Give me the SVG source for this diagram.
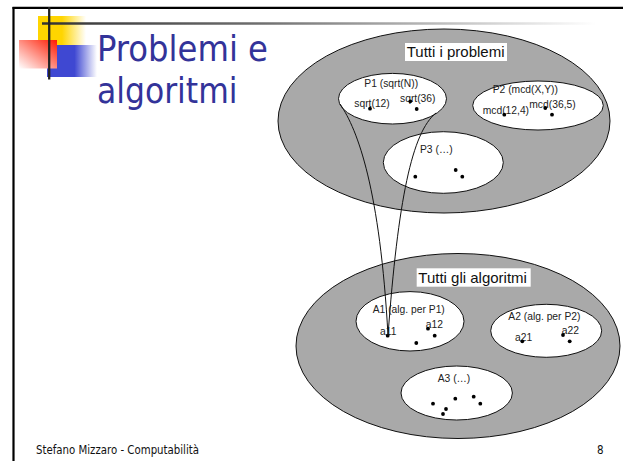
<svg xmlns="http://www.w3.org/2000/svg" width="623" height="461" viewBox="0 0 623 461">
<defs>
<linearGradient id="gYel" x1="0" y1="0" x2="1" y2="0"><stop offset="0" stop-color="#FFD500"/><stop offset="0.5" stop-color="#FFD500"/><stop offset="1" stop-color="#FFFFFF"/></linearGradient>
<linearGradient id="gRed" x1="1" y1="0" x2="0" y2="1"><stop offset="0" stop-color="#FF1A00"/><stop offset="1" stop-color="#FFFFFF"/></linearGradient>
<linearGradient id="gBlue" x1="0" y1="0" x2="1" y2="0"><stop offset="0" stop-color="#3F48D2"/><stop offset="0.55" stop-color="#3F48D2"/><stop offset="1" stop-color="#FFFFFF"/></linearGradient>
<linearGradient id="gLine" gradientUnits="userSpaceOnUse" x1="42" y1="0" x2="596" y2="0"><stop offset="0" stop-color="#333333"/><stop offset="0.4" stop-color="#707070"/><stop offset="0.8" stop-color="#d0d0d0"/><stop offset="1" stop-color="#ffffff"/></linearGradient>
</defs>
<style>
.big{fill:#a9a9a9;stroke:#111;stroke-width:1}
.sub{fill:#fff;stroke:#111;stroke-width:1}
.lbl{font-family:"Liberation Sans",Arial,sans-serif;font-size:10.3px;fill:#222}
.ttl{font-family:"Liberation Sans",Arial,sans-serif;font-size:15px;fill:#111}
.dot{fill:#000}
.con{fill:none;stroke:#111;stroke-width:1}
.foot{font-family:"DejaVu Sans Condensed","DejaVu Sans",sans-serif;font-stretch:condensed;font-size:11.5px;fill:#111}
</style>
<rect width="623" height="461" fill="#fff"/>
<!-- slide frame and decoration -->
<line x1="12.5" y1="7.8" x2="623" y2="7.8" stroke="#000" stroke-width="2.2"/>
<line x1="13.5" y1="7" x2="13.5" y2="461" stroke="#000" stroke-width="2.2"/>
<rect x="38" y="16" width="48" height="48" fill="url(#gYel)"/>
<rect x="47" y="45" width="50" height="32" fill="url(#gBlue)"/>
<rect x="19" y="40" width="38" height="28.5" fill="url(#gRed)"/>
<line x1="42" y1="23.5" x2="596" y2="23.5" stroke="url(#gLine)" stroke-width="2.3"/>
<line x1="49.2" y1="7" x2="49.2" y2="79.5" stroke="#222" stroke-width="2.3"/>
<text x="97" y="61" font-family="'DejaVu Sans Condensed','DejaVu Sans',sans-serif" font-stretch="condensed" font-size="36" fill="#333399" textLength="171" lengthAdjust="spacingAndGlyphs">Problemi e</text>
<text x="97" y="103.3" font-family="'DejaVu Sans Condensed','DejaVu Sans',sans-serif" font-stretch="condensed" font-size="36" fill="#333399" textLength="140.5" lengthAdjust="spacingAndGlyphs">algoritmi</text>
<text class="foot" x="36" y="454" textLength="163" lengthAdjust="spacingAndGlyphs">Stefano Mizzaro - Computabilità</text>
<text class="foot" x="597" y="454">8</text>

<g id="problemi">
<ellipse class="big" cx="444" cy="121" rx="166" ry="92"/>
<rect x="405" y="43" width="102" height="18" fill="#fff"/>
<text class="ttl" x="406.7" y="57.3">Tutti i problemi</text>
</g>
<g id="algoritmi">
<ellipse class="big" cx="458" cy="346" rx="162" ry="92.5"/>
<rect x="416.7" y="268.3" width="114" height="18.4" fill="#fff"/>
<text class="ttl" x="418.3" y="282.7">Tutti gli algoritmi</text>
</g>
<g id="P1">
<ellipse class="sub" cx="392.5" cy="98.7" rx="54" ry="25.3"/>
<text class="lbl" x="364.3" y="86.7">P1 (sqrt(N))</text>
<text class="lbl" x="354.3" y="107.3">sqrt(12)</text>
<text class="lbl" x="400" y="101.7">sqrt(36)</text>
<circle class="dot" cx="370" cy="108.7" r="1.9"/>
<circle class="dot" cx="410.3" cy="101.3" r="1.9"/>
<circle class="dot" cx="416.7" cy="109" r="1.9"/>
</g>
<g id="P2">
<ellipse class="sub" cx="538" cy="105.5" rx="65.3" ry="24.5"/>
<text class="lbl" x="492.7" y="92.7">P2 (mcd(X,Y))</text>
<text class="lbl" x="482.7" y="114.3">mcd(12,4)</text>
<text class="lbl" x="529.3" y="108.3">mcd(36,5)</text>
<circle class="dot" cx="504.3" cy="114.7" r="1.9"/>
<circle class="dot" cx="545.3" cy="108" r="1.9"/>
<circle class="dot" cx="552" cy="114.7" r="1.9"/>
</g>
<g id="P3">
<ellipse class="sub" cx="443.3" cy="162.5" rx="60" ry="30.8"/>
<text class="lbl" x="420" y="153.3">P3 (…)</text>
<circle class="dot" cx="415.3" cy="176.7" r="1.9"/>
<circle class="dot" cx="455.7" cy="170" r="1.9"/>
<circle class="dot" cx="462.3" cy="176.7" r="1.9"/>
</g>
<g id="A1">
<ellipse class="sub" cx="410" cy="321.3" rx="54" ry="29.7"/>
<text class="lbl" x="372.7" y="313.3">A1 (alg. per P1)</text>
<text class="lbl" x="380" y="335">a11</text>
<text class="lbl" x="425.7" y="328.3">a12</text>
<circle class="dot" cx="387.7" cy="335.7" r="1.9"/>
<circle class="dot" cx="428" cy="328.7" r="1.9"/>
<circle class="dot" cx="434.7" cy="335.7" r="1.9"/>
<circle class="dot" cx="416.3" cy="343" r="1.9"/>
</g>
<g id="A2">
<ellipse class="sub" cx="546.2" cy="330.8" rx="55.5" ry="26.5"/>
<text class="lbl" x="508.3" y="320">A2 (alg. per P2)</text>
<text class="lbl" x="515" y="340.7">a21</text>
<text class="lbl" x="561.7" y="334.3">a22</text>
<circle class="dot" cx="522.3" cy="341.3" r="1.9"/>
<circle class="dot" cx="563" cy="335" r="1.9"/>
<circle class="dot" cx="569.7" cy="341.3" r="1.9"/>
</g>
<g id="A3">
<ellipse class="sub" cx="456.7" cy="393" rx="55.7" ry="27"/>
<text class="lbl" x="437.7" y="381.7">A3 (…)</text>
<circle class="dot" cx="433" cy="403.7" r="1.9"/>
<circle class="dot" cx="446" cy="409" r="1.9"/>
<circle class="dot" cx="443" cy="414" r="1.9"/>
<circle class="dot" cx="455.3" cy="398.7" r="1.9"/>
<circle class="dot" cx="473.7" cy="396.7" r="1.9"/>
<circle class="dot" cx="480.3" cy="403.7" r="1.9"/>
</g>
<g id="connectors">
<path class="con" d="M340,104 C358,130 380,190 388,335.5"/>
<path class="con" d="M436,113 C412,132 398,200 388,335.5"/>
</g>
</svg>
